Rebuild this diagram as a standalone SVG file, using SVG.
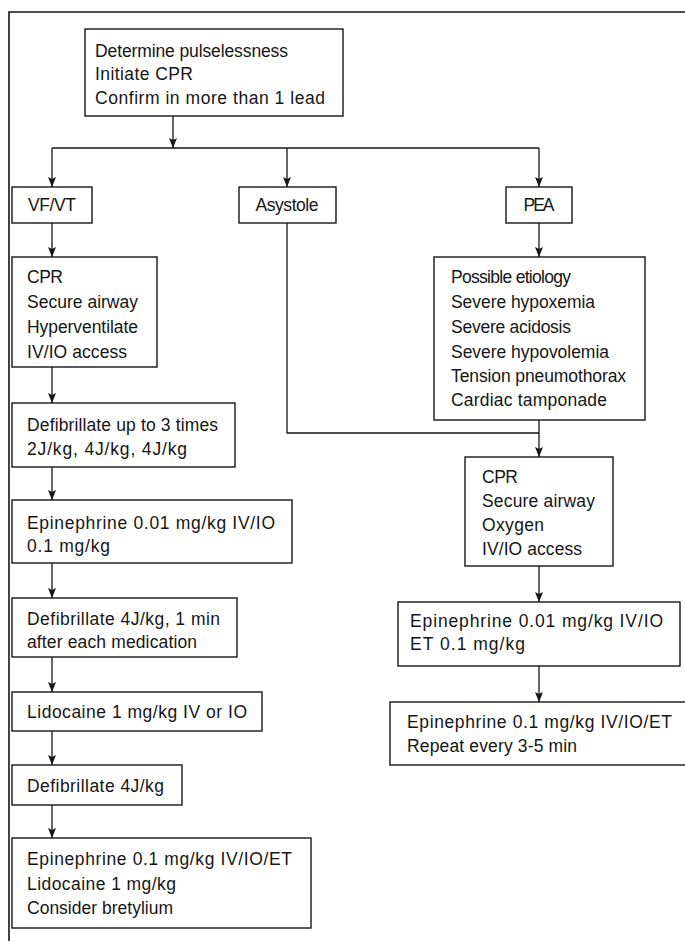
<svg xmlns="http://www.w3.org/2000/svg" width="685" height="941" viewBox="0 0 685 941">
  <style>
    .box { fill: #ffffff; stroke: #161616; stroke-width: 1.4; }
    .line { fill: none; stroke: #161616; stroke-width: 1.3; }
    .frame { fill: none; stroke: #161616; stroke-width: 1.6; }
    text { font-family: "Liberation Sans", Arial, sans-serif; font-size: 17.5px; fill: #161616; }
    .c { text-anchor: middle; }
  </style>
  <defs>
    <marker id="arrow" markerUnits="userSpaceOnUse" markerWidth="10" markerHeight="8" refX="10" refY="4" orient="auto">
      <path d="M0,0 L10,4 L0,8 L2,4 z" fill="#161616"/>
    </marker>
  </defs>
  <rect width="685" height="941" fill="#ffffff"/>

  <!-- page frame: top rule and left rule -->
  <path class="frame" d="M685,12 H9 V941"/>

  <!-- connectors -->
  <g id="connectors">
    <path class="line" d="M173,116 V148" marker-end="url(#arrow)"/>
    <path class="line" d="M52,148 H539"/>
    <path class="line" d="M52,148 V187" marker-end="url(#arrow)"/>
    <path class="line" d="M287,148 V187" marker-end="url(#arrow)"/>
    <path class="line" d="M539,148 V187" marker-end="url(#arrow)"/>
    <!-- VF/VT column -->
    <path class="line" d="M52,223 V257" marker-end="url(#arrow)"/>
    <path class="line" d="M52,367 V403" marker-end="url(#arrow)"/>
    <path class="line" d="M52,467 V500" marker-end="url(#arrow)"/>
    <path class="line" d="M52,563 V598" marker-end="url(#arrow)"/>
    <path class="line" d="M52,657 V692" marker-end="url(#arrow)"/>
    <path class="line" d="M52,731 V765" marker-end="url(#arrow)"/>
    <path class="line" d="M52,805 V838" marker-end="url(#arrow)"/>
    <!-- Asystole joins PEA path -->
    <path class="line" d="M287,223 V433 H539"/>
    <!-- PEA column -->
    <path class="line" d="M539,223 V257" marker-end="url(#arrow)"/>
    <path class="line" d="M539,420 V457" marker-end="url(#arrow)"/>
    <path class="line" d="M539,566 V602" marker-end="url(#arrow)"/>
    <path class="line" d="M539,666 V702" marker-end="url(#arrow)"/>
  </g>

  <g id="start">
    <rect class="box" x="85" y="29" width="258" height="87"/>
    <text x="95" y="57" textLength="193">Determine pulselessness</text>
    <text x="95" y="80" textLength="98">Initiate CPR</text>
    <text x="95" y="104" textLength="230">Confirm in more than 1 lead</text>
  </g>

  <g id="vfvt">
    <rect class="box" x="12" y="187" width="80" height="36"/>
    <text class="c" x="52" y="211" textLength="48">VF/VT</text>
  </g>
  <g id="asystole">
    <rect class="box" x="239" y="187" width="97" height="36"/>
    <text class="c" x="287" y="211" textLength="63">Asystole</text>
  </g>
  <g id="pea">
    <rect class="box" x="506" y="187" width="66" height="36"/>
    <text class="c" x="539" y="211" textLength="31">PEA</text>
  </g>

  <g id="vf-cpr">
    <rect class="box" x="12" y="257" width="145" height="110"/>
    <text x="27" y="283" textLength="36">CPR</text>
    <text x="27" y="308" textLength="111">Secure airway</text>
    <text x="27" y="333" textLength="111">Hyperventilate</text>
    <text x="27" y="358" textLength="100">IV/IO access</text>
  </g>
  <g id="vf-defib-3">
    <rect class="box" x="12" y="403" width="223" height="64"/>
    <text x="27" y="431" textLength="191">Defibrillate up to 3 times</text>
    <text x="27" y="455" textLength="160">2J/kg, 4J/kg, 4J/kg</text>
  </g>
  <g id="vf-epi-1">
    <rect class="box" x="12" y="500" width="280" height="63"/>
    <text x="27" y="529" textLength="248">Epinephrine 0.01 mg/kg IV/IO</text>
    <text x="27" y="552" textLength="83">0.1 mg/kg</text>
  </g>
  <g id="vf-defib-med">
    <rect class="box" x="12" y="598" width="225" height="59"/>
    <text x="27" y="625" textLength="193">Defibrillate 4J/kg, 1 min</text>
    <text x="27" y="648" textLength="170">after each medication</text>
  </g>
  <g id="vf-lidocaine">
    <rect class="box" x="12" y="692" width="250" height="39"/>
    <text x="27" y="718" textLength="220">Lidocaine 1 mg/kg IV or IO</text>
  </g>
  <g id="vf-defib-4">
    <rect class="box" x="12" y="765" width="170" height="40"/>
    <text x="27" y="792" textLength="137">Defibrillate 4J/kg</text>
  </g>
  <g id="vf-epi-2">
    <rect class="box" x="12" y="838" width="299" height="90"/>
    <text x="27" y="865" textLength="265">Epinephrine 0.1 mg/kg IV/IO/ET</text>
    <text x="27" y="890" textLength="149">Lidocaine 1 mg/kg</text>
    <text x="27" y="914" textLength="146">Consider bretylium</text>
  </g>

  <g id="pea-etiology">
    <rect class="box" x="434" y="257" width="211" height="163"/>
    <text x="451" y="283" textLength="120">Possible etiology</text>
    <text x="451" y="308" textLength="144">Severe hypoxemia</text>
    <text x="451" y="333" textLength="120">Severe acidosis</text>
    <text x="451" y="358" textLength="158">Severe hypovolemia</text>
    <text x="451" y="382" textLength="175">Tension pneumothorax</text>
    <text x="451" y="406" textLength="156">Cardiac tamponade</text>
  </g>
  <g id="pea-cpr">
    <rect class="box" x="465" y="457" width="148" height="109"/>
    <text x="482" y="483" textLength="36">CPR</text>
    <text x="482" y="507" textLength="113">Secure airway</text>
    <text x="482" y="531" textLength="62">Oxygen</text>
    <text x="482" y="555" textLength="100">IV/IO access</text>
  </g>
  <g id="pea-epi-1">
    <rect class="box" x="398" y="602" width="282" height="64"/>
    <text x="410" y="627" textLength="253">Epinephrine 0.01 mg/kg IV/IO</text>
    <text x="410" y="650" textLength="115">ET 0.1 mg/kg</text>
  </g>
  <g id="pea-epi-2">
    <rect class="box" x="390" y="702" width="310" height="63"/>
    <text x="407" y="728" textLength="265">Epinephrine 0.1 mg/kg IV/IO/ET</text>
    <text x="407" y="752" textLength="170">Repeat every 3-5 min</text>
  </g>
</svg>
